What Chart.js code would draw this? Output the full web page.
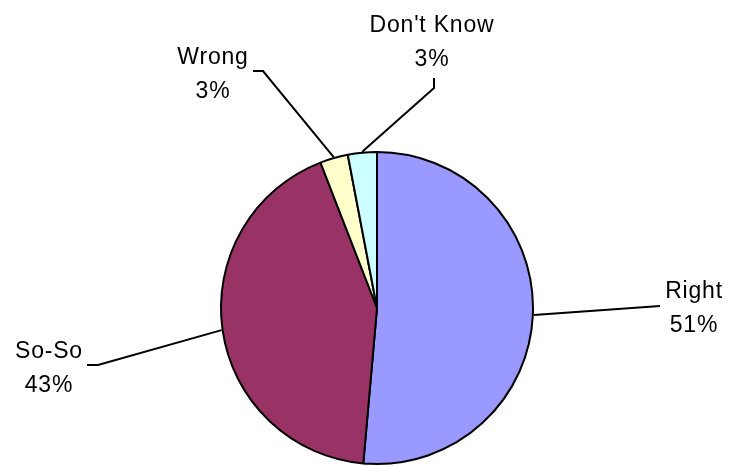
<!DOCTYPE html>
<html>
<head>
<meta charset="utf-8">
<script src="https://cdn.jsdelivr.net/npm/chart.js@4/dist/chart.umd.min.js"></script>
<style>
  html, body { margin: 0; padding: 0; background: #fff; }
  #wrap { width: 729px; height: 466px; position: relative; }
</style>
</head>
<body>
<div id="wrap"><canvas id="pie"></canvas></div>
<script>
// answers, share of respondents (%)
const categories = ['Right', 'So-So', 'Wrong', "Don't Know"];
const shares = [51.4, 42.7, 2.9, 3.0];
const sliceColors = ['#9999FF', '#993366', '#FFFFCC', '#CCFFFF'];

// where each label sits and how its leader line bends (canvas px)
const labelLayout = [
    { cx: 694, y: 298, path: [[660, 306]] },
    { cx: 49, y: 358, path: [[98, 365], [87, 365]] },
    { cx: 213, y: 64, path: [[263, 71], [253, 71]] },
    { cx: 432, y: 32, path: [[434, 88], [434, 78]] }
];

const pieLabels = {
    id: 'pieLabels',
    afterDatasetsDraw(chart, args, options) {
        const { ctx } = chart;
        const meta = chart.getDatasetMeta(0);
        const total = shares.reduce((a, b) => a + b, 0);

        ctx.save();
        ctx.strokeStyle = '#000';
        ctx.lineWidth = 2;
        ctx.fillStyle = '#000';
        ctx.font = options.font;
        ctx.letterSpacing = options.letterSpacing;
        ctx.textAlign = 'center';
        ctx.textBaseline = 'alphabetic';

        meta.data.forEach((arc, i) => {
            const lay = labelLayout[i];
            const mid = (arc.startAngle + arc.endAngle) / 2;
            const r = arc.outerRadius + 1;
            ctx.beginPath();
            ctx.moveTo(arc.x + Math.cos(mid) * r, arc.y + Math.sin(mid) * r);
            lay.path.forEach(p => ctx.lineTo(p[0], p[1]));
            ctx.stroke();

            const pct = Math.round(shares[i] / total * 100) + '%';
            ctx.fillText(categories[i], lay.cx, lay.y);
            ctx.fillText(pct, lay.cx, lay.y + options.lineStep);
        });
        ctx.restore();
    }
};

new Chart(document.getElementById('pie'), {
    type: 'pie',
    plugins: [pieLabels],
    data: {
        labels: categories,
        datasets: [{
            data: shares,
            backgroundColor: sliceColors,
            borderColor: '#000',
            borderWidth: 2
        }]
    },
    options: {
        responsive: true,
        maintainAspectRatio: false,
        animation: false,
        layout: { padding: { left: 220, top: 151, right: 195, bottom: 1 } },
        plugins: {
            legend: { display: false },
            tooltip: { enabled: false },
            pieLabels: {
                font: '23px "Liberation Sans", Arial, sans-serif',
                letterSpacing: '0.8px',
                lineStep: 34
            }
        }
    }
});
</script>
</body>
</html>
